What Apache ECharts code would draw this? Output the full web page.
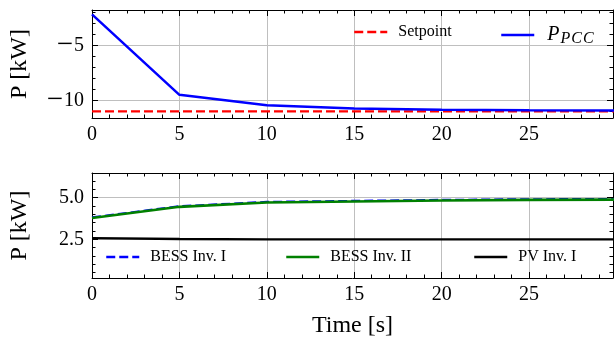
<!DOCTYPE html>
<html><head><meta charset="utf-8">
<script src="https://cdn.jsdelivr.net/npm/echarts@6/dist/echarts.min.js"></script>
<style>html,body{margin:0;padding:0;background:#fff}#c{width:614px;height:339px}</style>
</head><body><div id="c"></div>
<script>
// ---- data ----
const time = [0, 5, 10, 15, 20, 25, 30];
const setpoint = [-11, -11, -11, -11, -11, -11, -11];
const pPCC = [-2.2, -9.5, -10.45, -10.73, -10.85, -10.9, -10.92];
const bessInvI = [3.82, 4.49, 4.75, 4.81, 4.87, 4.91, 4.92];
const bessInvII = [3.78, 4.45, 4.71, 4.77, 4.83, 4.87, 4.88];
const pvInvI = [2.57, 2.52, 2.5, 2.5, 2.5, 2.5, 2.5];
const xMajorTicks = [0, 5, 10, 15, 20, 25];
const xMinorTicks = [1, 2, 3, 4, 6, 7, 8, 9, 11, 12, 13, 14, 16, 17, 18, 19, 21, 22, 23, 24, 26, 27, 28, 29];
const topYMajorTicks = [-10, -5];
const topYMinorTicks = [-11, -9, -8, -7, -6, -4, -3, -2];
const botYMajorTicks = [2.5, 5.0];
const botYMinorTicks = [0.5, 1, 1.5, 2, 3, 3.5, 4, 4.5, 5.5, 6];

const FONT = 'Liberation Serif';
const X_MIN = 0, X_MAX = 29.8;
const TOP_Y = [-11.6, -1.8];
const BOT_Y = [0.18, 6.48];

function xAx(gi, position, ticks, len, showLabel, split, showLine, extra) {
  return Object.assign({
    type: 'value', gridIndex: gi, position: position, min: X_MIN, max: X_MAX,
    axisLine: { show: showLine, onZero: false, lineStyle: { color: '#000', width: 1 } },
    axisTick: { show: true, inside: true, length: len, customValues: ticks, lineStyle: { color: '#000', width: 1 } },
    axisLabel: { show: showLabel, customValues: ticks, margin: 7, color: '#000', fontFamily: FONT, fontSize: 20 },
    splitLine: { show: split, lineStyle: { color: '#bfbfbf', width: 1 } },
    minorTick: { show: false }, minorSplitLine: { show: false }
  }, extra || {});
}
function yAx(gi, position, range, ticks, len, showLabel, split, showLine, fmt, extra) {
  return Object.assign({
    type: 'value', gridIndex: gi, position: position, min: range[0], max: range[1],
    axisLine: { show: showLine, onZero: false, lineStyle: { color: '#000', width: 1 } },
    axisTick: { show: true, inside: true, length: len, customValues: ticks, lineStyle: { color: '#000', width: 1 } },
    axisLabel: {
      show: showLabel, customValues: ticks, margin: 8, color: '#000', fontFamily: FONT, fontSize: 20, formatter: fmt,
      rich: { m: { fontFamily: FONT, fontSize: 29, color: '#000', padding: [0, 1, 0, 0] } }
    },
    splitLine: { show: split, lineStyle: { color: '#bfbfbf', width: 1 } },
    minorTick: { show: false }, minorSplitLine: { show: false }
  }, extra || {});
}
const topFmt = v => (v < 0 ? '{m|\u2212}' + Math.abs(v) : String(v));
const botFmt = v => v.toFixed(1);
const yName = { name: 'P [kW]', nameLocation: 'middle', nameGap: 60, nameTextStyle: { fontFamily: FONT, fontSize: 24, color: '#000' } };
const xName = { name: 'Time [s]', nameLocation: 'middle', nameGap: 36, nameTextStyle: { fontFamily: FONT, fontSize: 24, color: '#000' } };

const xAxes = [
  xAx(0, 'bottom', xMajorTicks, 6, true, true, true),
  xAx(0, 'bottom', xMinorTicks, 3.5, false, false, false),
  xAx(0, 'top', xMajorTicks, 6, false, false, true),
  xAx(0, 'top', xMinorTicks, 3.5, false, false, false),
  xAx(1, 'bottom', xMajorTicks, 6, true, true, true, xName),
  xAx(1, 'bottom', xMinorTicks, 3.5, false, false, false),
  xAx(1, 'top', xMajorTicks, 6, false, false, true),
  xAx(1, 'top', xMinorTicks, 3.5, false, false, false)
];
const yAxes = [
  yAx(0, 'left', TOP_Y, topYMajorTicks, 6, true, true, true, topFmt, yName),
  yAx(0, 'left', TOP_Y, topYMinorTicks, 3.5, false, false, false),
  yAx(0, 'right', TOP_Y, topYMajorTicks, 6, false, false, true),
  yAx(0, 'right', TOP_Y, topYMinorTicks, 3.5, false, false, false),
  yAx(1, 'left', BOT_Y, botYMajorTicks, 6, true, true, true, botFmt, yName),
  yAx(1, 'left', BOT_Y, botYMinorTicks, 3.5, false, false, false),
  yAx(1, 'right', BOT_Y, botYMajorTicks, 6, false, false, true),
  yAx(1, 'right', BOT_Y, botYMinorTicks, 3.5, false, false, false)
];

const pairs = arr => time.map((t, i) => [t, arr[i]]);
function line(name, arr, xi, yi, color, width, type) {
  return {
    name: name, type: 'line', xAxisIndex: xi, yAxisIndex: yi, data: pairs(arr),
    symbol: 'none', showSymbol: false, animation: false, clip: true,
    lineStyle: { color: color, width: width, type: type || 'solid' },
    itemStyle: { color: color }
  };
}
const series = [
  line('Setpoint', setpoint, 0, 0, '#ff0000', 2.2, [9, 4]),
  line('P_PCC', pPCC, 0, 0, '#0000ff', 2.5),
  line('BESS Inv. I', bessInvI, 4, 4, '#0000ff', 2, [9, 4]),
  line('BESS Inv. II', bessInvII, 4, 4, '#008000', 2.6),
  line('PV Inv. I', pvInvI, 4, 4, '#000000', 2.4)
];

function lg(name, left, top, extra) {
  return Object.assign({
    data: [name], left: left, top: top, padding: 0, itemWidth: 33, itemHeight: 14,
    selectedMode: false,
    itemStyle: { opacity: 0, color: 'rgba(0,0,0,0)', borderWidth: 0 },
    lineStyle: { width: 2.5 },
    textStyle: { fontFamily: FONT, fontSize: 16, color: '#000', padding: [0, 0, 0, 6], lineHeight: 18 }
  }, extra || {});
}
const sub = { fontFamily: FONT, fontStyle: 'italic', fontSize: 16, color: '#000', lineHeight: 18, padding: [8, 1, 0, 0] };
const legends = [
  lg('Setpoint', 353, 23),
  lg('P_PCC', 500, 23, {
    formatter: () => '{i|P}{s|P}{s|C}{s|C}',
    textStyle: {
      fontFamily: FONT, color: '#000', padding: [0, 0, 0, 8],
      rich: {
        i: { fontFamily: FONT, fontStyle: 'italic', fontSize: 20, color: '#000', lineHeight: 18, padding: [0, 1, 0, 0] },
        s: sub
      }
    }
  }),
  lg('BESS Inv. I', 105, 248),
  lg('BESS Inv. II', 285, 248),
  lg('PV Inv. I', 473, 248)
];

const chart = echarts.init(document.getElementById('c'), null, { renderer: 'canvas' });
chart.setOption({
  animation: false,
  backgroundColor: '#fff',
  grid: [
    { left: 90, right: 1, top: 10, height: 108, containLabel: false },
    { left: 90, right: 1, top: 173, height: 106.5, containLabel: false }
  ],
  xAxis: xAxes,
  yAxis: yAxes,
  legend: legends,
  series: series
});
</script></body></html>
